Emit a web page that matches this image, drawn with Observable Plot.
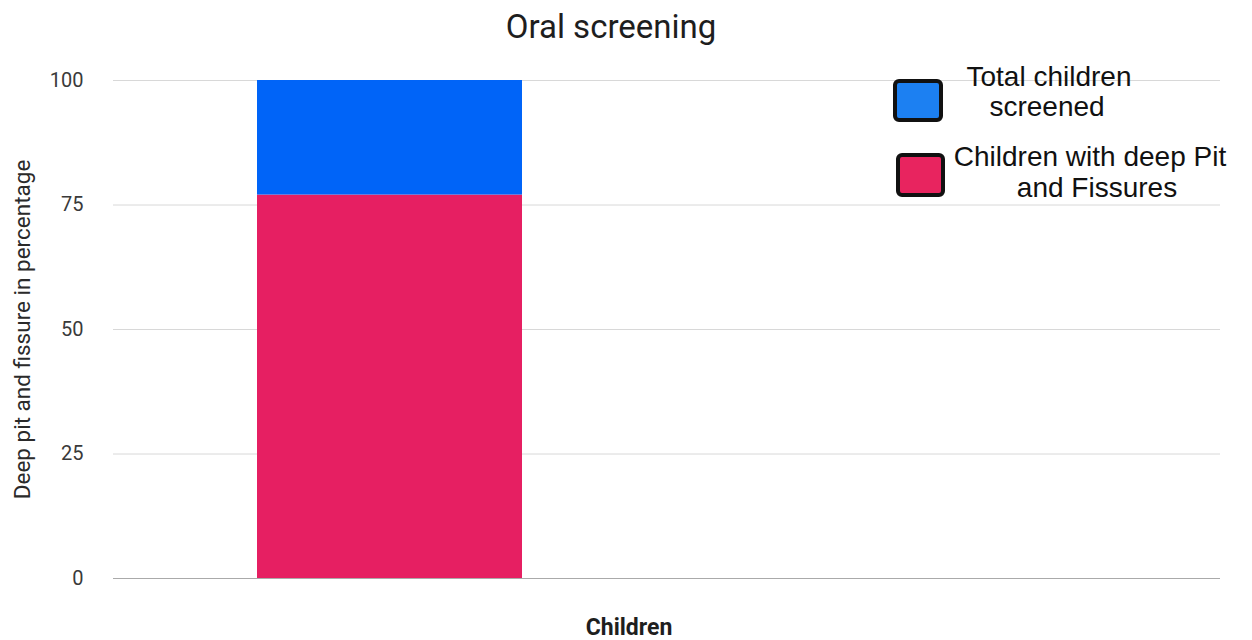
<!DOCTYPE html>
<html>
<head>
<meta charset="utf-8">
<script src="https://cdn.jsdelivr.net/npm/d3@7"></script>
<script src="https://cdn.jsdelivr.net/npm/@observablehq/plot@0.6"></script>
<style>
  html, body { margin: 0; padding: 0; background: #fff; }
  #wrap { position: relative; width: 1252px; height: 640px; overflow: hidden; font-family: Roboto, "Noto Sans", sans-serif; }
  #chart, #overlay { position: absolute; left: 0; top: 0; }
  .lgbox { position: absolute; border: 4px solid #111; border-radius: 6px; box-sizing: border-box; }
</style>
</head>
<body>
<div id="wrap">
  <div id="chart"></div>
  <div id="legend"></div>
  <svg id="overlay" width="1252" height="640"></svg>
</div>
<script>
// --- data ---
const categories = ["Children", " "];
const series = ["Children with deep Pit and Fissures", "Total children screened"];
const values = [77, 23]; // stacked: pink portion, blue remainder up to 100
const yTicks = [0, 25, 50, 75, 100];
const colors = ["#E61F62", "#0064F8"];
const legendColors = ["#E8245F", "#1C80F2"];
const titleText = "Oral screening";
const yLabel = "Deep pit and fissure in percentage";
const xLabel = "Children";
const legendLines = [["Total children", "screened"], ["Children with deep Pit", "and Fissures"]];

const data = series.map((s, i) => ({category: categories[0], series: s, value: values[i]}));

const chart = Plot.plot({
  width: 1252,
  height: 640,
  marginTop: 80,
  marginBottom: 62,
  marginLeft: 113,
  marginRight: 32,
  style: {fontFamily: "Roboto, 'Noto Sans', sans-serif", color: "#444", background: "transparent"},
  x: {domain: categories, paddingInner: 0.52, paddingOuter: 0.26, axis: null},
  y: {domain: [0, 100], ticks: yTicks, tickSize: 0, tickPadding: 30, label: null, grid: false},
  color: {domain: series, range: colors},
  marks: [
    Plot.gridY(yTicks.filter(d => d !== 0), {stroke: "#d8d8d8", strokeOpacity: 1, strokeWidth: 1}),
    Plot.axisY({ticks: yTicks, tickSize: 0, tickPadding: 30, label: null, fontSize: 20, fill: "#3a3a3a"}),
    Plot.barY(data, {x: "category", y: "value", fill: "series", order: series}),
    Plot.ruleY([0], {stroke: "#aaa", strokeWidth: 1.2}),
    Plot.text([yLabel], {frameAnchor: "left", textAnchor: "middle", dx: -91, rotate: -90, fontSize: 22.5, fill: "#2a2a2a", text: d => d})
  ]
});
document.getElementById("chart").appendChild(chart);
// enlarge y tick labels
d3.select(chart).selectAll('g[aria-label="y-axis tick label"]').attr("font-size", 20).style("font-size", "20px");

// overlay texts: title, x label, legend
const ov = d3.select("#overlay");
ov.append("text").attr("x", 611).attr("y", 38).attr("text-anchor", "middle")
  .style("font-family", "Roboto, 'Noto Sans', sans-serif").style("font-size", "33px").attr("fill", "#1e1e1e")
  .text(titleText);
ov.append("text").attr("x", 629).attr("y", 635).attr("text-anchor", "middle")
  .style("font-family", "Roboto, 'Noto Sans', sans-serif").style("font-size", "23px").style("font-weight", "bold").attr("fill", "#1e1e1e")
  .text(xLabel);

// legend (hand-drawn style boxes)
const lg = document.getElementById("legend");
const boxPos = [{l: 893, t: 79, w: 50, h: 43, c: legendColors[1]}, {l: 896, t: 153, w: 49, h: 44, c: legendColors[0]}];
boxPos.forEach(b => {
  const d = document.createElement("div");
  d.className = "lgbox";
  Object.assign(d.style, {left: b.l + "px", top: b.t + "px", width: b.w + "px", height: b.h + "px", background: b.c});
  lg.appendChild(d);
});
const linePos = [[{cx: 1049, y: 86}, {cx: 1047, y: 116}], [{cx: 1090, y: 166}, {cx: 1097, y: 197}]];
legendLines.forEach((lines, i) => {
  lines.forEach((ln, j) => {
    ov.append("text").attr("x", linePos[i][j].cx).attr("y", linePos[i][j].y).attr("text-anchor", "middle")
      .style("font-family", "'Liberation Sans', Arial, sans-serif").style("font-size", "28px").attr("fill", "#111")
      .text(ln);
  });
});
</script>
</body>
</html>
